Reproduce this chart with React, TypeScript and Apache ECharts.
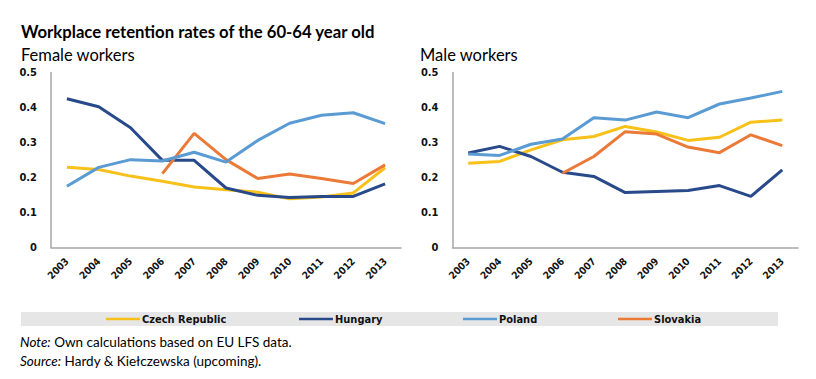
import React, { useEffect, useRef } from "react";
import * as echarts from "echarts";

const years = ["2003", "2004", "2005", "2006", "2007", "2008", "2009", "2010", "2011", "2012", "2013"];
const countries = ["Czech Republic", "Hungary", "Poland", "Slovakia"];
const colors = ["#F7C11A", "#28498A", "#5A9BD3", "#EB7A38"];

const femaleCzech = [0.229, 0.223, 0.204, 0.189, 0.173, 0.165, 0.158, 0.139, 0.144, 0.156, 0.228];
const femaleHungary = [0.425, 0.402, 0.342, 0.249, 0.249, 0.170, 0.149, 0.143, 0.146, 0.146, 0.182];
const femalePoland = [0.175, 0.229, 0.251, 0.247, 0.272, 0.244, 0.306, 0.355, 0.378, 0.385, 0.354];
const femaleSlovakia = [null, null, null, 0.211, 0.326, 0.251, 0.197, 0.210, 0.197, 0.183, 0.236];

const maleCzech = [0.241, 0.246, 0.279, 0.308, 0.317, 0.346, 0.330, 0.306, 0.315, 0.358, 0.364];
const maleHungary = [0.270, 0.289, 0.260, 0.215, 0.203, 0.157, 0.160, 0.163, 0.177, 0.146, 0.222];
const malePoland = [0.267, 0.263, 0.295, 0.310, 0.371, 0.364, 0.387, 0.371, 0.410, 0.427, 0.446];
const maleSlovakia = [null, null, null, 0.212, 0.260, 0.331, 0.324, 0.287, 0.271, 0.322, 0.291];

const yTicks = { min: 0, max: 0.5, interval: 0.1 };

const femaleSeries = [femaleCzech, femaleHungary, femalePoland, femaleSlovakia];
const maleSeries = [maleCzech, maleHungary, malePoland, maleSlovakia];

const legendX = [106, 299, 463, 618];

const titleText = "Workplace retention rates of the 60-64 year old";
const leftTitle = "Female workers";
const rightTitle = "Male workers";
const noteText = "Own calculations based on EU LFS data.";
const sourceText = "Hardy & Kiełczewska (upcoming).";

const condensed = "'DejaVu Sans Condensed', 'Liberation Sans Narrow', sans-serif";
const bodyFont = "Lato, 'Open Sans', sans-serif";

export default function App() {
  const ref = useRef<HTMLDivElement>(null);
  useEffect(() => {
    if (!ref.current) return;
    const chart = echarts.init(ref.current, undefined, { renderer: "svg" });
    const axisLine = { show: true, lineStyle: { color: "#a6a6a6", width: 1.5 } };
    const xAxisBase = (gridIndex: number) => ({
      type: "category" as const,
      gridIndex,
      data: years,
      boundaryGap: true,
      axisLine,
      axisTick: { show: false },
      axisLabel: {
        rotate: 45,
        margin: 12,
        fontFamily: condensed,
        fontWeight: "bold",
        fontSize: 10,
        color: "#111",
      },
      splitLine: { show: false },
    });
    const yAxisBase = (gridIndex: number) => ({
      type: "value" as const,
      gridIndex,
      min: yTicks.min,
      max: yTicks.max,
      interval: yTicks.interval,
      axisLine,
      axisTick: { show: false },
      splitLine: { show: false },
      axisLabel: {
        margin: 14,
        fontFamily: condensed,
        fontWeight: "bold",
        fontSize: 11,
        color: "#111",
      },
    });
    const mk = (data: (number | null)[], i: number, g: number) => ({
      type: "line" as const,
      name: countries[i],
      xAxisIndex: g,
      yAxisIndex: g,
      data,
      symbol: "none",
      connectNulls: false,
      lineStyle: { color: colors[i], width: 3 },
      itemStyle: { color: colors[i] },
      z: i === 2 ? 3 : 2,
    });
    const series = [
      ...femaleSeries.map((d, i) => mk(d, i, 0)),
      ...maleSeries.map((d, i) => mk(d, i, 1)),
    ];
    chart.setOption({
      animation: false,
      backgroundColor: "#ffffff",
      grid: [
        { left: 51, top: 72.5, width: 350, height: 175 },
        { left: 452.5, top: 72.5, width: 345.5, height: 175 },
      ],
      xAxis: [xAxisBase(0), xAxisBase(1)],
      yAxis: [yAxisBase(0), yAxisBase(1)],
      legend: countries.map((c, i) => ({
        data: [c],
        left: legendX[i],
        top: 312,
        padding: 0,
        icon: "rect",
        itemWidth: 34,
        itemHeight: 2.5,
        selectedMode: false,
        textStyle: {
          fontFamily: condensed,
          fontWeight: "bold",
          fontSize: 11,
          lineHeight: 14,
          color: "#111",
          padding: [0, 0, 0, -3],
        },
      })),
      series,
      graphic: [
        {
          type: "rect",
          z: -10,
          shape: { x: 21, y: 312, width: 757, height: 14 },
          style: { fill: "#e6e6e6" },
          silent: true,
        },
        {
          type: "text",
          x: 21,
          y: 32,
          style: {
            text: titleText,
            fontFamily: bodyFont,
            fontWeight: "bold",
            fontSize: 16.7,
            fill: "#000",
            verticalAlign: "middle",
          },
        },
        {
          type: "text",
          x: 21,
          y: 55,
          style: {
            text: leftTitle,
            fontFamily: bodyFont,
            fontSize: 16.5,
            fill: "#000",
            verticalAlign: "middle",
          },
        },
        {
          type: "text",
          x: 420,
          y: 55,
          style: {
            text: rightTitle,
            fontFamily: bodyFont,
            fontSize: 16.5,
            fill: "#000",
            verticalAlign: "middle",
          },
        },
        {
          type: "text",
          x: 20,
          y: 342,
          style: {
            text: "{i|Note:} " + noteText,
            fontFamily: bodyFont,
            fontSize: 13.5,
            fill: "#000",
            verticalAlign: "middle",
            rich: { i: { fontStyle: "italic", fontFamily: bodyFont, fontSize: 13.5, fill: "#000" } },
          },
        },
        {
          type: "text",
          x: 20,
          y: 361,
          style: {
            text: "{i|Source:} " + sourceText,
            fontFamily: bodyFont,
            fontSize: 13.5,
            fill: "#000",
            verticalAlign: "middle",
            rich: { i: { fontStyle: "italic", fontFamily: bodyFont, fontSize: 13.5, fill: "#000" } },
          },
        },
      ],
    });
    return () => chart.dispose();
  }, []);
  return (
    <div
      ref={ref}
      style={{ position: "fixed", left: 0, top: 0, width: 816, height: 379, background: "#fff" }}
    />
  );
}
